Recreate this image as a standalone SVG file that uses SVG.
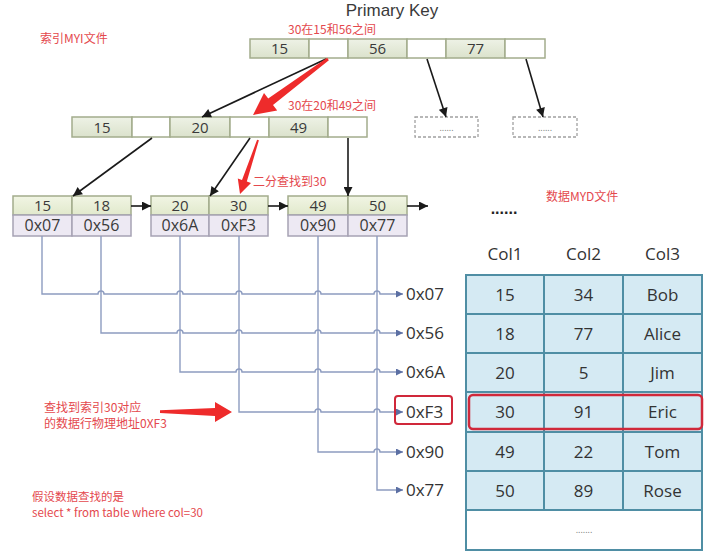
<svg xmlns="http://www.w3.org/2000/svg" width="713" height="560" viewBox="0 0 713 560">
<defs>
<linearGradient id="gk" x1="0" y1="0" x2="0" y2="1"><stop offset="0" stop-color="#eef2e6"/><stop offset="1" stop-color="#dbe2cc"/></linearGradient>
<linearGradient id="gl" x1="0" y1="0" x2="0" y2="1"><stop offset="0" stop-color="#f1f5e4"/><stop offset="1" stop-color="#e1e9cc"/></linearGradient>
<marker id="ab" viewBox="0 0 10 10" refX="10" refY="5" markerWidth="10" markerHeight="9" markerUnits="userSpaceOnUse" orient="auto"><path d="M0,0 L10,5 L0,10 z" fill="#1a1a1a"/></marker>
<marker id="au" viewBox="0 0 10 10" refX="10" refY="5" markerWidth="7" markerHeight="7" markerUnits="userSpaceOnUse" orient="auto"><path d="M0,0 L10,5 L0,10 z" fill="#5b6fa3"/></marker>
<style>
.k{fill:url(#gk);stroke:#a3ac8c;stroke-width:1.5}
.e{fill:#ffffff;stroke:#a3ac8c;stroke-width:1.5}
.lt{fill:url(#gl);stroke:#a3ac8c;stroke-width:1.5}
.lb{fill:#ede9f3;stroke:#a6a2b4;stroke-width:1.5}
.d{fill:none;stroke:#a0a0a0;stroke-width:1.3;stroke-dasharray:3,2}
.t{font-family:"Open Sans","DejaVu Sans",sans-serif;fill:#3a3a3a;text-anchor:middle}
.n{font-size:15px}
.a{font-size:16px}
.r{font-family:"Noto Sans CJK SC","Noto Sans",sans-serif;font-size:12px;fill:#e4484d}
.blk{fill:none;stroke:#1a1a1a;stroke-width:1.6;marker-end:url(#ab)}
.blu{fill:none;stroke:#8d9cc0;stroke-width:1.4;marker-end:url(#au)}
.ra{fill:#ee2b2b}
.tc{fill:#d5eaf3;stroke:#4f8ea4;stroke-width:2}
.tw{fill:#ffffff;stroke:#4f8ea4;stroke-width:2}
.tt{font-family:"Open Sans","DejaVu Sans",sans-serif;font-size:17px;fill:#333;text-anchor:middle}
.lab{font-family:"Open Sans","DejaVu Sans",sans-serif;font-size:17px;fill:#333}
</style>
</defs>
<rect width="713" height="560" fill="#ffffff"/>

<text x="392" y="16" style="font-family:'Liberation Sans',Arial,sans-serif;font-size:17px;fill:#3a3a3a;text-anchor:middle">Primary Key</text>
<text x="40" y="43" class="r">索引MYI文件</text>
<text x="288" y="34" class="r">30在15和56之间</text>
<text x="288" y="110" class="r">30在20和49之间</text>
<text x="253" y="186" class="r">二分查找到30</text>
<text x="546" y="201" class="r">数据MYD文件</text>
<text x="44" y="412" class="r">查找到索引30对应</text>
<text x="44" y="428" class="r">的数据行物理地址0XF3</text>
<text x="32" y="501" class="r" style="font-size:11.5px">假设数据查找的是</text>
<text x="32" y="517" class="r" style="font-size:11.5px">select * from table where col=30</text>

<g id="root">
<rect x="250" y="39" width="59" height="19" class="k"/>
<rect x="309" y="39" width="39" height="19" class="e"/>
<rect x="348" y="39" width="59" height="19" class="k"/>
<rect x="407" y="39" width="39" height="19" class="e"/>
<rect x="446" y="39" width="59" height="19" class="k"/>
<rect x="505" y="39" width="40" height="19" class="e"/>
<text x="279.5" y="54" class="t n">15</text>
<text x="377.5" y="54" class="t n">56</text>
<text x="475.5" y="54" class="t n">77</text>
</g>

<g id="level2">
<rect x="72" y="117" width="60" height="20" class="k"/>
<rect x="132" y="117" width="38" height="20" class="e"/>
<rect x="170" y="117" width="60" height="20" class="k"/>
<rect x="230" y="117" width="39" height="20" class="e"/>
<rect x="269" y="117" width="59" height="20" class="k"/>
<rect x="328" y="117" width="39" height="20" class="e"/>
<text x="102" y="132.5" class="t n">15</text>
<text x="200" y="132.5" class="t n">20</text>
<text x="298.5" y="132.5" class="t n">49</text>
</g>

<g id="more1">
<rect x="415" y="117" width="63" height="20" class="d"/>
<text x="446.5" y="131" class="t" style="font-size:9px;fill:#777">......</text>
</g>
<g id="more2">
<rect x="513" y="117" width="64" height="20" class="d"/>
<text x="545" y="131" class="t" style="font-size:9px;fill:#777">......</text>
</g>

<g id="leaf1">
<rect x="13" y="196" width="59" height="19" class="lt"/>
<rect x="72" y="196" width="59" height="19" class="lt"/>
<rect x="13" y="215" width="59" height="21" class="lb"/>
<rect x="72" y="215" width="59" height="21" class="lb"/>
<text x="42.5" y="211" class="t n">15</text>
<text x="101.5" y="211" class="t n">18</text>
<text x="42.5" y="231" class="t a">0x07</text>
<text x="101.5" y="231" class="t a">0x56</text>
</g>
<g id="leaf2">
<rect x="151" y="196" width="58" height="19" class="lt"/>
<rect x="209" y="196" width="59" height="19" class="lt"/>
<rect x="151" y="215" width="58" height="21" class="lb"/>
<rect x="209" y="215" width="59" height="21" class="lb"/>
<text x="180" y="211" class="t n">20</text>
<text x="238.5" y="211" class="t n">30</text>
<text x="180" y="231" class="t a">0x6A</text>
<text x="238.5" y="231" class="t a">0xF3</text>
</g>
<g id="leaf3">
<rect x="288" y="196" width="60" height="19" class="lt"/>
<rect x="348" y="196" width="59" height="19" class="lt"/>
<rect x="288" y="215" width="60" height="21" class="lb"/>
<rect x="348" y="215" width="59" height="21" class="lb"/>
<text x="318" y="211" class="t n">49</text>
<text x="377.5" y="211" class="t n">50</text>
<text x="318" y="231" class="t a">0x90</text>
<text x="377.5" y="231" class="t a">0x77</text>
</g>

<g id="connectors">
<line x1="326" y1="59" x2="202" y2="117" class="blk"/>
<line x1="427" y1="59" x2="446" y2="117" class="blk"/>
<line x1="526" y1="59" x2="543" y2="117" class="blk"/>
<line x1="152" y1="138" x2="73" y2="196" class="blk"/>
<line x1="250" y1="138" x2="210" y2="196" class="blk"/>
<line x1="348" y1="138" x2="348" y2="196" class="blk"/>
<line x1="131" y1="206" x2="151" y2="206" class="blk"/>
<line x1="268" y1="206" x2="288" y2="206" class="blk"/>
<line x1="407" y1="206" x2="428" y2="206" class="blk"/>

<path class="blu" d="M42,236 V294 H98 a3,3 0 0 1 6,0 H177 a3,3 0 0 1 6,0 H236 a3,3 0 0 1 6,0 H315 a3,3 0 0 1 6,0 H374 a3,3 0 0 1 6,0 H403"/>
<path class="blu" d="M101,236 V333 H177 a3,3 0 0 1 6,0 H236 a3,3 0 0 1 6,0 H315 a3,3 0 0 1 6,0 H374 a3,3 0 0 1 6,0 H403"/>
<path class="blu" d="M180,236 V372 H236 a3,3 0 0 1 6,0 H315 a3,3 0 0 1 6,0 H374 a3,3 0 0 1 6,0 H403"/>
<path class="blu" d="M239,236 V412 H315 a3,3 0 0 1 6,0 H374 a3,3 0 0 1 6,0 H403"/>
<path class="blu" d="M318,236 V452 H374 a3,3 0 0 1 6,0 H403"/>
<path class="blu" d="M377,236 V490 H403"/>

<polygon class="ra" points="327.1,57.8 268.2,98.6 264,93 253,115 277.2,110.6 273,105 328.9,60.2"/>
<polygon class="ra" points="257.1,139.7 242,179.9 237.8,178.5 240,194 251,182.9 246.8,181.5 258.9,140.3"/>
<polygon class="ra" points="160,410.2 215,408 215,402 232,412 215,422 215,416 160,413"/>
</g>

<g id="addresses">
<text x="406" y="300" class="lab">0x07</text>
<text x="406" y="339" class="lab">0x56</text>
<text x="406" y="378" class="lab">0x6A</text>
<rect x="395" y="396" width="57" height="28" rx="3" fill="none" stroke="#d0283a" stroke-width="2"/>
<text x="406" y="418" class="lab">0xF3</text>
<text x="406" y="458" class="lab">0x90</text>
<text x="406" y="496" class="lab">0x77</text>
</g>

<g id="table">
<text x="504" y="214" style="font-family:'Liberation Sans',sans-serif;font-size:16px;font-weight:bold;fill:#222;text-anchor:middle">......</text>
<text x="505" y="260" class="tt">Col1</text>
<text x="583.5" y="260" class="tt">Col2</text>
<text x="662.5" y="260" class="tt">Col3</text>
<rect x="466" y="275" width="78" height="39" class="tc"/><rect x="544" y="275" width="79" height="39" class="tc"/><rect x="623" y="275" width="79" height="39" class="tc"/>
<rect x="466" y="314" width="78" height="39" class="tc"/><rect x="544" y="314" width="79" height="39" class="tc"/><rect x="623" y="314" width="79" height="39" class="tc"/>
<rect x="466" y="353" width="78" height="39" class="tc"/><rect x="544" y="353" width="79" height="39" class="tc"/><rect x="623" y="353" width="79" height="39" class="tc"/>
<rect x="466" y="392" width="78" height="40" class="tc"/><rect x="544" y="392" width="79" height="40" class="tc"/><rect x="623" y="392" width="79" height="40" class="tc"/>
<rect x="466" y="432" width="78" height="39" class="tc"/><rect x="544" y="432" width="79" height="39" class="tc"/><rect x="623" y="432" width="79" height="39" class="tc"/>
<rect x="466" y="471" width="78" height="39" class="tc"/><rect x="544" y="471" width="79" height="39" class="tc"/><rect x="623" y="471" width="79" height="39" class="tc"/>
<rect x="466" y="510" width="236" height="40" class="tw"/>
<text x="505" y="300.5" class="tt">15</text><text x="583.5" y="300.5" class="tt">34</text><text x="662.5" y="300.5" class="tt">Bob</text>
<text x="505" y="339.5" class="tt">18</text><text x="583.5" y="339.5" class="tt">77</text><text x="662.5" y="339.5" class="tt">Alice</text>
<text x="505" y="378.5" class="tt">20</text><text x="583.5" y="378.5" class="tt">5</text><text x="662.5" y="378.5" class="tt">Jim</text>
<text x="505" y="418" class="tt">30</text><text x="583.5" y="418" class="tt">91</text><text x="662.5" y="418" class="tt">Eric</text>
<text x="505" y="457.5" class="tt">49</text><text x="583.5" y="457.5" class="tt">22</text><text x="662.5" y="457.5" class="tt">Tom</text>
<text x="505" y="496.5" class="tt">50</text><text x="583.5" y="496.5" class="tt">89</text><text x="662.5" y="496.5" class="tt">Rose</text>
<text x="584" y="533" class="t" style="font-size:9px;fill:#777">.......</text>
<rect x="469" y="395" width="233" height="34" rx="4" fill="none" stroke="#d0283a" stroke-width="2.5"/>
</g>
</svg>
